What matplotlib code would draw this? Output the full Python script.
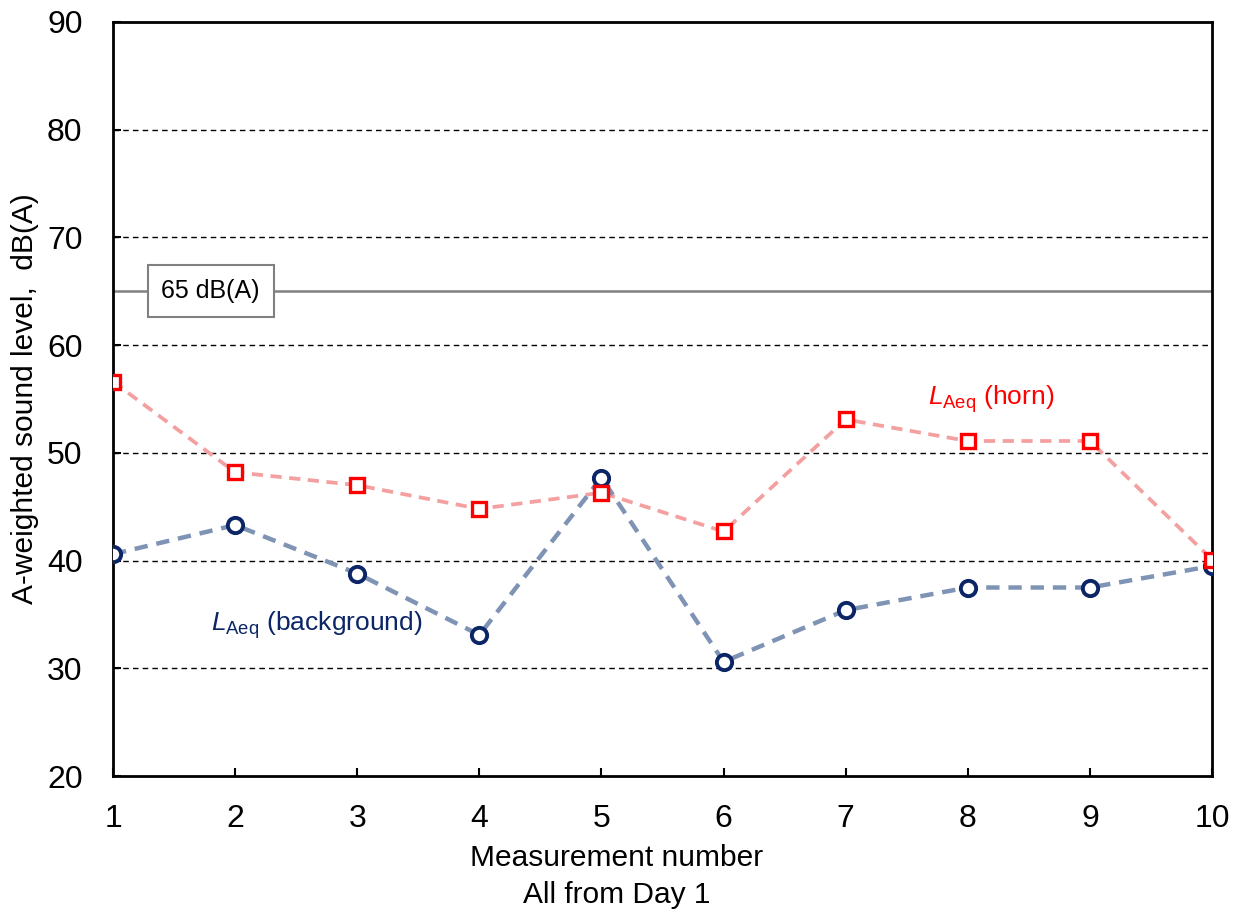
import matplotlib
matplotlib.use("Agg")
import matplotlib.pyplot as plt

# data
measurement = [1, 2, 3, 4, 5, 6, 7, 8, 9, 10]
laeq_horn = [56.6, 48.2, 47.0, 44.8, 46.3, 42.7, 53.1, 51.1, 51.1, 40.1]
laeq_background = [40.6, 43.3, 38.8, 33.1, 47.7, 30.6, 35.4, 37.5, 37.5, 39.5]
limit_level = 65

plt.rcParams["font.family"] = ["Liberation Sans", "DejaVu Sans"]
plt.rcParams["mathtext.fontset"] = "custom"
plt.rcParams["mathtext.rm"] = "Liberation Sans"
plt.rcParams["mathtext.it"] = "Liberation Sans:italic"

fig = plt.figure(figsize=(12.37, 9.13), dpi=100)
ax = fig.add_axes([0.0914, 0.150, 0.8884, 0.826])

# grid and 65 dB(A) reference line
for y in [30, 40, 50, 60, 70, 80]:
    ax.axhline(y, color="black", lw=1.0, ls=(0, (4, 3)), zorder=1)
ax.axhline(limit_level, color="#808080", lw=1.8, zorder=2)
ax.text(1.8, limit_level, "65 dB(A)", fontsize=18, ha="center", va="center",
        bbox=dict(boxstyle="square,pad=0.55", fc="white", ec="#808080", lw=1.5), zorder=3)

# series
ax.plot(measurement, laeq_horn, ls=(0, (3, 2)), lw=2.7, color="#f5a0a0", zorder=4)
ax.plot(measurement, laeq_horn, ls="none", marker="s", ms=10, mfc="white",
        mec="#ff0000", mew=2.4, zorder=6)
ax.plot(measurement, laeq_background, ls=(0, (3, 2)), lw=3.2, color="#7f93b5", zorder=4)
ax.plot(measurement, laeq_background, ls="none", marker="o", ms=11, mfc="white",
        mec="#0b2566", mew=2.8, zorder=5)

ax.text(7.67, 55.0, r"$\mathit{L}_{\mathrm{Aeq}}$ (horn)", fontsize=19, color="#ff0000",
        ha="left", va="center")
ax.text(1.8, 34.0, r"$\mathit{L}_{\mathrm{Aeq}}$ (background)", fontsize=19, color="#0b2566",
        ha="left", va="center")

ax.set_xlim(1, 10)
ax.set_ylim(20, 90)
ax.set_xticks(measurement)
ax.set_yticks(range(20, 91, 10))
ax.tick_params(direction="in", labelsize=23, length=6, width=1.5)
ax.tick_params(axis="x", pad=20)
ax.tick_params(axis="y", pad=22)
for s in ax.spines.values():
    s.set_linewidth(2)

ax.set_xlabel("Measurement number\nAll from Day 1", fontsize=21.5, linespacing=1.4)
ax.xaxis.set_label_coords(0.458, -0.090)
ax.set_ylabel("A-weighted sound level,  dB(A)", fontsize=21.5, labelpad=6)

fig.savefig("out.png", dpi=100)
